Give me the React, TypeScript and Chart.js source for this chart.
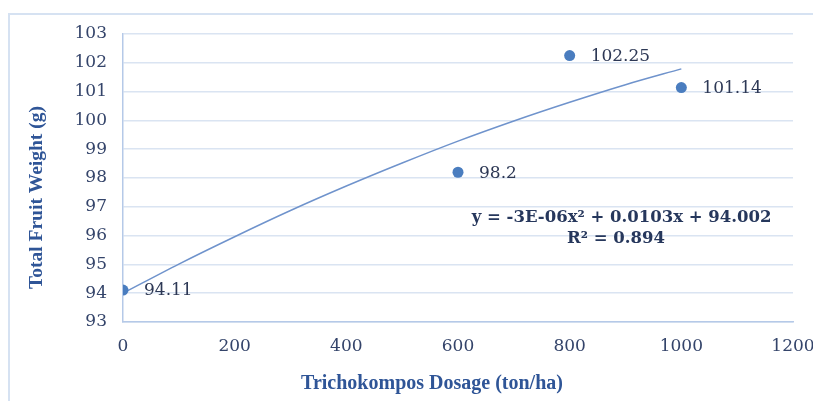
import React, { useEffect, useRef } from "react";
import { Chart, registerables } from "chart.js";

Chart.register(...registerables);

// Observed data
const dosage = [0, 600, 800, 1000];
const weight = [94.11, 98.2, 102.25, 101.14];

// Polynomial trendline
const trendDosage = [0, 100, 200, 300, 400, 500, 600, 700, 800, 900, 1000];
const trendWeight = [94.0, 95.01, 95.96, 96.87, 97.72, 98.52, 99.28, 99.98, 100.63, 101.24, 101.79];

// Axis ticks
const xTicks = [0, 200, 400, 600, 800, 1000, 1200];
const yTicks = [93, 94, 95, 96, 97, 98, 99, 100, 101, 102, 103];

// Texts
const xTitle = "Trichokompos Dosage (ton/ha)";
const yTitle = "Total Fruit Weight (g)";
const equationLines = ["y = -3E-06x\u00B2 + 0.0103x + 94.002", "R\u00B2 = 0.894"];

const W = 813;
const H = 401;

const decorPlugin = {
  id: "decor",
  beforeDraw(chart: any) {
    const ctx = chart.ctx;
    ctx.save();
    ctx.strokeStyle = "#d6e2f2";
    ctx.lineWidth = 2;
    ctx.beginPath();
    ctx.moveTo(9, H);
    ctx.lineTo(9, 14);
    ctx.lineTo(W, 14);
    ctx.stroke();
    ctx.restore();
  },
  afterDatasetsDraw(chart: any) {
    const ctx = chart.ctx;
    const xs = chart.scales.x;
    const ys = chart.scales.y;
    ctx.save();
    // data labels
    const meta = chart.getDatasetMeta(1);
    ctx.font = "17px 'DejaVu Serif'";
    ctx.fillStyle = "#2d3855";
    ctx.textAlign = "left";
    ctx.textBaseline = "middle";
    meta.data.forEach((pt: any, i: number) => {
      ctx.fillText(String(weight[i]), pt.x + 21, pt.y + 1);
    });
    // equation
    ctx.font = "bold 16.5px 'DejaVu Serif'";
    ctx.fillStyle = "#26375c";
    ctx.textAlign = "center";
    ctx.fillText(equationLines[0], xs.getPixelForValue(893), ys.getPixelForValue(96.63));
    ctx.fillText(equationLines[1], xs.getPixelForValue(883), ys.getPixelForValue(95.88));
    // axis titles
    ctx.fillStyle = "#2f5597";
    ctx.font = "bold 20px 'Liberation Serif'";
    ctx.fillText(xTitle, 432, 384);
    ctx.translate(37, 197.5);
    ctx.rotate(-Math.PI / 2);
    ctx.font = "bold 19.5px 'Liberation Serif'";
    ctx.fillText(yTitle, 0, 0);
    ctx.restore();
  },
};

export default function App() {
  const ref = useRef<HTMLCanvasElement | null>(null);

  useEffect(() => {
    if (!ref.current) return;
    const chart = new Chart(ref.current, {
      type: "scatter",
      data: {
        datasets: [
          {
            label: "Trend",
            data: trendDosage.map((x, i) => ({ x, y: trendWeight[i] })),
            showLine: true,
            borderColor: "#6f93cc",
            borderWidth: 1.5,
            pointRadius: 0,
            cubicInterpolationMode: "monotone",
            order: 2,
          } as any,
          {
            label: "Total Fruit Weight",
            data: dosage.map((x, i) => ({ x, y: weight[i] })),
            backgroundColor: "#4a7dbf",
            borderColor: "#4a7dbf",
            borderWidth: 0,
            pointRadius: 5.5,
            order: 1,
          },
        ],
      },
      options: {
        animation: false,
        responsive: false,
        layout: { padding: { top: 34, right: 20, left: 0, bottom: 0 } },
        plugins: {
          legend: { display: false },
          tooltip: { enabled: false },
        },
        scales: {
          x: {
            type: "linear",
            min: xTicks[0],
            max: xTicks[xTicks.length - 1],
            grid: { display: false, drawTicks: false },
            border: { display: true, color: "#b5c9e8", width: 1.5 },
            ticks: {
              stepSize: xTicks[1] - xTicks[0],
              padding: 14,
              color: "#34446a",
              font: { family: "'DejaVu Serif'", size: 17 },
              maxRotation: 0,
              callback: (v: any) => String(v),
            },
            afterFit: (s: any) => {
              s.height = 79;
              s.paddingLeft = 0;
              s.paddingRight = 0;
            },
          },
          y: {
            type: "linear",
            min: yTicks[0],
            max: yTicks[yTicks.length - 1],
            grid: { color: "#dae4f2", lineWidth: 1.5, drawTicks: false },
            border: { display: true, color: "#b5c9e8", width: 1.5 },
            ticks: {
              stepSize: yTicks[1] - yTicks[0],
              padding: 16,
              color: "#34446a",
              font: { family: "'DejaVu Serif'", size: 17 },
              callback: (v: any) => String(v),
            },
            afterFit: (s: any) => {
              s.width = 123;
              s.paddingTop = 0;
              s.paddingBottom = 0;
            },
          },
        },
      },
      plugins: [decorPlugin],
    });
    return () => chart.destroy();
  }, []);

  return (
    <div style={{ position: "fixed", left: 0, top: 0, width: W, height: H, background: "#fff" }}>
      <canvas ref={ref} width={W} height={H} style={{ width: W, height: H, display: "block" }} />
    </div>
  );
}
